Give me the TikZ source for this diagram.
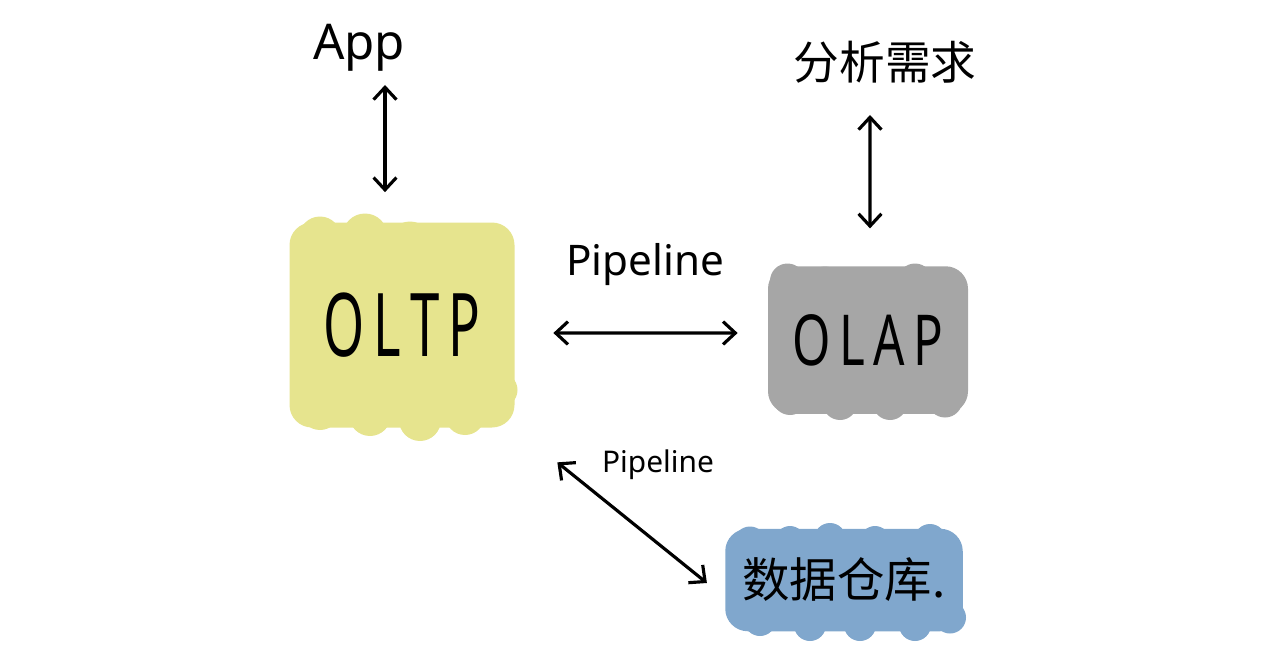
\documentclass[tikz,border=0pt]{standalone}
\usepackage{fontspec}
\usepackage{graphicx}
\setmainfont{Noto Sans}
\newfontfamily\cjk{Noto Sans CJK SC}
\usetikzlibrary{arrows.meta,backgrounds}
\definecolor{oltpc}{HTML}{E6E48E}
\definecolor{olapc}{HTML}{A6A6A6}
\definecolor{dwc}{HTML}{80A7CD}
\tikzset{
  blob/.style={rounded corners=0.45cm, inner sep=0pt},
  arr/.style={line width=1.8pt, line cap=round, {Straight Barb[length=7pt,width=13pt]}-{Straight Barb[length=7pt,width=13pt]}},
  lbl/.style={inner sep=1pt}
}
\begin{document}
\begin{tikzpicture}
\useasboundingbox (0,0) rectangle (25.48,-13.28);
% boxes
\node[blob, fill=oltpc, minimum width=4.5cm, minimum height=4.1cm] (oltp) at (8.04,-6.5)
  {\fontsize{50}{56}\selectfont\scalebox{0.6}[1]{O\,L\,T\,P}};
\node[blob, fill=olapc, minimum width=4.0cm, minimum height=2.95cm] (olap) at (17.36,-6.8)
  {\fontsize{40}{46}\selectfont\scalebox{0.7}[1]{O\,L\,A\,P}};
\node[blob, fill=dwc, minimum width=4.75cm, minimum height=2.05cm] (dw) at (16.88,-11.6)
  {\cjk\fontsize{27}{32}\selectfont 数据仓库.};
% scalloped edges
\begin{scope}[on background layer]
  \fill[oltpc] (6.4,-4.75) circle (0.42) (7.3,-4.72) circle (0.45) (8.2,-4.85) circle (0.42)
    (9.15,-4.95) circle (0.42) (9.8,-5.05) circle (0.38)
    (6.4,-8.2) circle (0.4) (7.4,-8.3) circle (0.42) (8.4,-8.4) circle (0.42) (9.3,-8.3) circle (0.4)
    (10.0,-7.8) circle (0.35);
  \fill[olapc] (15.75,-5.62) circle (0.35) (16.5,-5.68) circle (0.35) (17.3,-5.7) circle (0.35)
    (18.3,-5.62) circle (0.35) (15.8,-7.95) circle (0.35) (16.8,-8.05) circle (0.35)
    (17.8,-8.05) circle (0.35) (18.9,-8.0) circle (0.35);
  \fill[dwc] (15.0,-10.85) circle (0.32) (15.8,-10.82) circle (0.3) (16.6,-10.78) circle (0.32)
    (17.5,-10.82) circle (0.3) (18.6,-10.8) circle (0.32) (15.2,-12.4) circle (0.32)
    (16.2,-12.5) circle (0.32) (17.2,-12.5) circle (0.32) (18.3,-12.5) circle (0.32) (19.0,-12.35) circle (0.32);
\end{scope}
% labels
\node[lbl] (app) at (7.18,-0.95) {\fontsize{28}{34}\selectfont App};
\node[lbl] (anal) at (17.7,-1.24) {\cjk\fontsize{26}{32}\selectfont 分析需求};
\node[lbl] (pipe1) at (12.9,-5.3) {\fontsize{24}{28}\selectfont Pipeline};
\node[lbl] (pipe2) at (13.16,-9.3) {\fontsize{17}{20}\selectfont Pipeline};
% connectors
\draw[arr] ([shift={(0.52,-0.75)}]app.center) -- ([shift={(-0.34,0.6)}]oltp.north);
\draw[arr] ([shift={(-0.3,-1.06)}]anal.center) -- ([shift={(0.04,0.75)}]olap.north);
\draw[arr] ([shift={(0.77,-0.16)}]oltp.east) -- ([shift={(-0.6,0.14)}]olap.west);
\draw[arr] ([shift={(0.85,-0.69)}]oltp.south east) -- ([shift={(-0.36,-0.06)}]dw.west);
\end{tikzpicture}
\end{document}
